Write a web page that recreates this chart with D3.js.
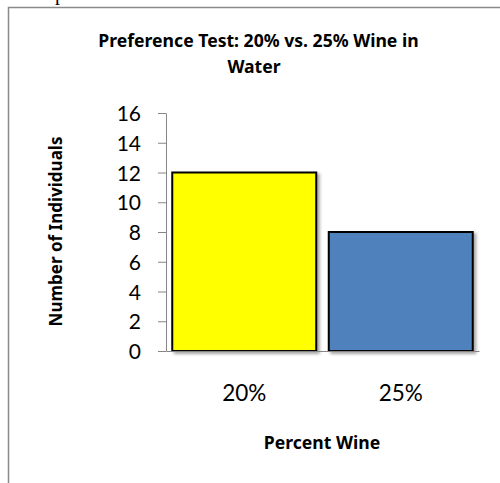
<!DOCTYPE html>
<html>
<head>
<meta charset="utf-8">
<script src="https://cdn.jsdelivr.net/npm/d3@7"></script>
<style>
  html, body { margin: 0; padding: 0; background: #fff; }
  svg { display: block; }
  text { font-family: Lato, "Open Sans", sans-serif; fill: #000; }
  .bold { font-family: "Noto Sans", "Open Sans", sans-serif; font-weight: 700; }
</style>
</head>
<body>
<svg id="chart" width="500" height="483"></svg>
<script>
// Preference test results
const categories = ["20%", "25%"];
const counts = [12, 8];
const barColors = ["#FFFF00", "#4F81BD"];
const yTicks = [0, 2, 4, 6, 8, 10, 12, 14, 16];
const titleLines = ["Preference Test: 20% vs. 25% Wine in", "Water"];
const yTitle = "Number of Individuals";
const xTitle = "Percent Wine";

const svg = d3.select("#chart");

// shadow under the bars
const defs = svg.append("defs");
const f = defs.append("filter").attr("id", "barShadow")
  .attr("x", "-10%").attr("y", "-10%").attr("width", "130%").attr("height", "130%");
f.append("feDropShadow").attr("dx", 2.5).attr("dy", 2).attr("stdDeviation", 1.6)
  .attr("flood-color", "#000").attr("flood-opacity", 0.35);

// stray glyph above the chart frame
svg.append("text").attr("x", 55).attr("y", 0)
  .style("font-family", "'Liberation Serif', serif").style("font-size", "20px")
  .text("p");

// chart frame
svg.append("rect").attr("x", 8.5).attr("y", 7.5).attr("width", 520).attr("height", 520)
  .attr("fill", "none").attr("stroke", "#8a8a8a").attr("stroke-width", 1.5);

const plot = { left: 166, right: 479, top: 113, bottom: 351 };

const x = d3.scaleBand().domain(categories)
  .range([plot.left, plot.right]).paddingInner(0.08).paddingOuter(0.04);
const y = d3.scaleLinear().domain([0, 16]).range([plot.bottom, plot.top]);

// y axis
const yAxis = svg.append("g").attr("transform", `translate(${plot.left},0)`)
  .call(d3.axisLeft(y).tickValues(yTicks).tickSize(8).tickPadding(17).tickSizeOuter(0));
yAxis.select(".domain").attr("stroke", "#868686");
yAxis.selectAll(".tick line").attr("stroke", "#868686");
yAxis.selectAll(".tick text").style("font-family", "Lato, sans-serif").style("font-size", "21px")
  .attr("dy", "0.36em");

// bars
svg.append("g").selectAll("rect").data(categories).join("rect")
  .attr("x", d => x(d))
  .attr("y", (d, i) => y(counts[i]))
  .attr("width", x.bandwidth())
  .attr("height", (d, i) => y(0) - y(counts[i]))
  .attr("fill", (d, i) => barColors[i])
  .attr("stroke", "#000").attr("stroke-width", 2)
  .attr("filter", "url(#barShadow)");

// x axis
const xAxis = svg.append("g").attr("transform", `translate(0,${plot.bottom})`)
  .call(d3.axisBottom(x).tickSize(0).tickPadding(34).tickSizeOuter(0));
xAxis.select(".domain").attr("stroke", "#868686");
xAxis.selectAll(".tick text").style("font-family", "Lato, sans-serif").style("font-size", "22.5px")
  .attr("dy", "0.71em");

// titles
const title = svg.append("text").attr("class", "bold").attr("text-anchor", "middle")
  .style("font-size", "17.6px");
titleLines.forEach((t, i) => {
  title.append("tspan").attr("x", i === 0 ? 258.5 : 254).attr("y", 47 + i * 25.5).text(t);
});

svg.append("text").attr("class", "bold").attr("text-anchor", "middle")
  .attr("transform", "translate(62,231.5) rotate(-90)")
  .style("font-size", "17px")
  .text(yTitle);

svg.append("text").attr("class", "bold").attr("text-anchor", "middle")
  .attr("x", 322).attr("y", 449)
  .style("font-size", "17.6px")
  .text(xTitle);
</script>
</body>
</html>
